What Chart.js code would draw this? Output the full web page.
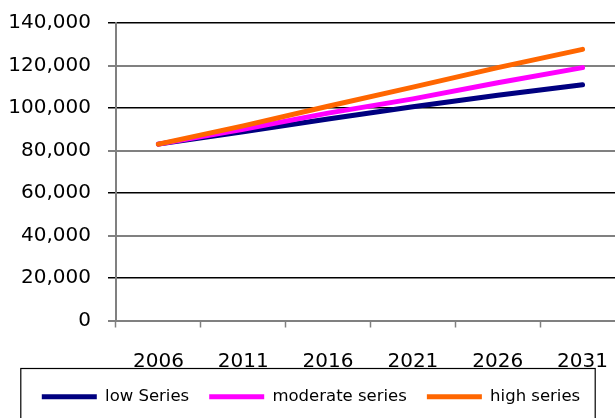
<!DOCTYPE html>
<html>
<head>
<meta charset="utf-8">
<script src="https://cdn.jsdelivr.net/npm/chart.js@4"></script>
<style>
    html, body { margin: 0; padding: 0; background: #fff; overflow: hidden; }
    #wrap { width: 630px; height: 418px; overflow: hidden; }
</style>
</head>
<body>
<div id="wrap"><canvas id="popChart" width="630" height="418"></canvas></div>
<script>
let years = ["2006", "2011", "2016", "2021", "2026", "2031"];
let lowSeries = [83000, 88800, 94800, 100600, 106000, 110900];
let moderateSeries = [83000, 90000, 97600, 104300, 111900, 119000];
let highSeries = [83000, 91600, 100800, 109800, 119000, 127600];

const FONT = "'DejaVu Sans', Verdana, sans-serif";

// legend sits a little left of centre, inside a box that is open at the bottom
const legendBorder = {
    id: "legendBorder",
    afterLayout(chart) {
        const lg = chart.legend;
        if (!lg) return;
        lg.left -= 4;
        lg.right -= 4;
    },
    afterDraw(chart) {
        const lg = chart.legend;
        if (!lg || !lg.legendHitBoxes.length) return;
        const boxes = lg.legendHitBoxes;
        const left = Math.min(...boxes.map(b => b.left)) - 21;
        const right = Math.max(...boxes.map(b => b.left + b.width)) + 15;
        const ctx = chart.ctx;
        ctx.save();
        ctx.strokeStyle = "#000";
        ctx.lineWidth = 1.2;
        ctx.strokeRect(left, lg.top, right - left, chart.height);
        ctx.restore();
    }
};

function line(label, data, color, order) {
    return {
        label: label,
        data: data,
        borderColor: color,
        backgroundColor: color,
        borderWidth: 5,
        borderCapStyle: "round",
        pointRadius: 0,
        pointStyle: "line",
        tension: 0,
        order: order
    };
}

new Chart(document.getElementById("popChart"), {
    type: "line",
    data: {
        labels: years,
        datasets: [
            line("low Series", lowSeries, "#000080", 3),
            line("moderate series", moderateSeries, "#ff00ff", 2),
            line("high series", highSeries, "#ff6600", 1)
        ]
    },
    options: {
        responsive: false,
        animation: false,
        layout: { padding: { top: 23, left: 0, right: 0, bottom: 3 } },
        plugins: {
            tooltip: { enabled: false },
            legend: {
                position: "bottom",
                labels: {
                    usePointStyle: true,
                    pointStyleWidth: 55,
                    boxHeight: 5,
                    padding: 20,
                    color: "#000",
                    font: { family: FONT, size: 16.5 },
                    sort: (a, b) => a.datasetIndex - b.datasetIndex
                }
            }
        },
        scales: {
            x: {
                offset: true,
                grid: {
                    offset: true,
                    drawOnChartArea: false,
                    drawTicks: true,
                    tickLength: 7,
                    tickWidth: 1.5,
                    tickColor: "#808080"
                },
                border: { color: "#808080", width: 2 },
                ticks: {
                    color: "#000",
                    padding: 22,
                    maxRotation: 0,
                    font: { family: FONT, size: 20 }
                },
                afterFit: (scale) => { scale.height = 48; }
            },
            y: {
                min: 0,
                max: 140000,
                grid: {
                    color: (c) => (c.index % 2 === 0 ? "#808080" : "#000"),
                    lineWidth: (c) => (c.index % 2 === 0 ? 2 : 1.5),
                    tickLength: 8
                },
                border: { color: "#808080", width: 2 },
                ticks: {
                    stepSize: 20000,
                    color: "#000",
                    padding: 17,
                    font: { family: FONT, size: 20 },
                    callback: (v) => v.toLocaleString("en-US")
                },
                afterFit: (scale) => {
                    scale.width = 116;
                    scale.paddingTop = 0;
                    scale.paddingBottom = 0;
                }
            }
        }
    },
    plugins: [legendBorder]
});
</script>
</body>
</html>
